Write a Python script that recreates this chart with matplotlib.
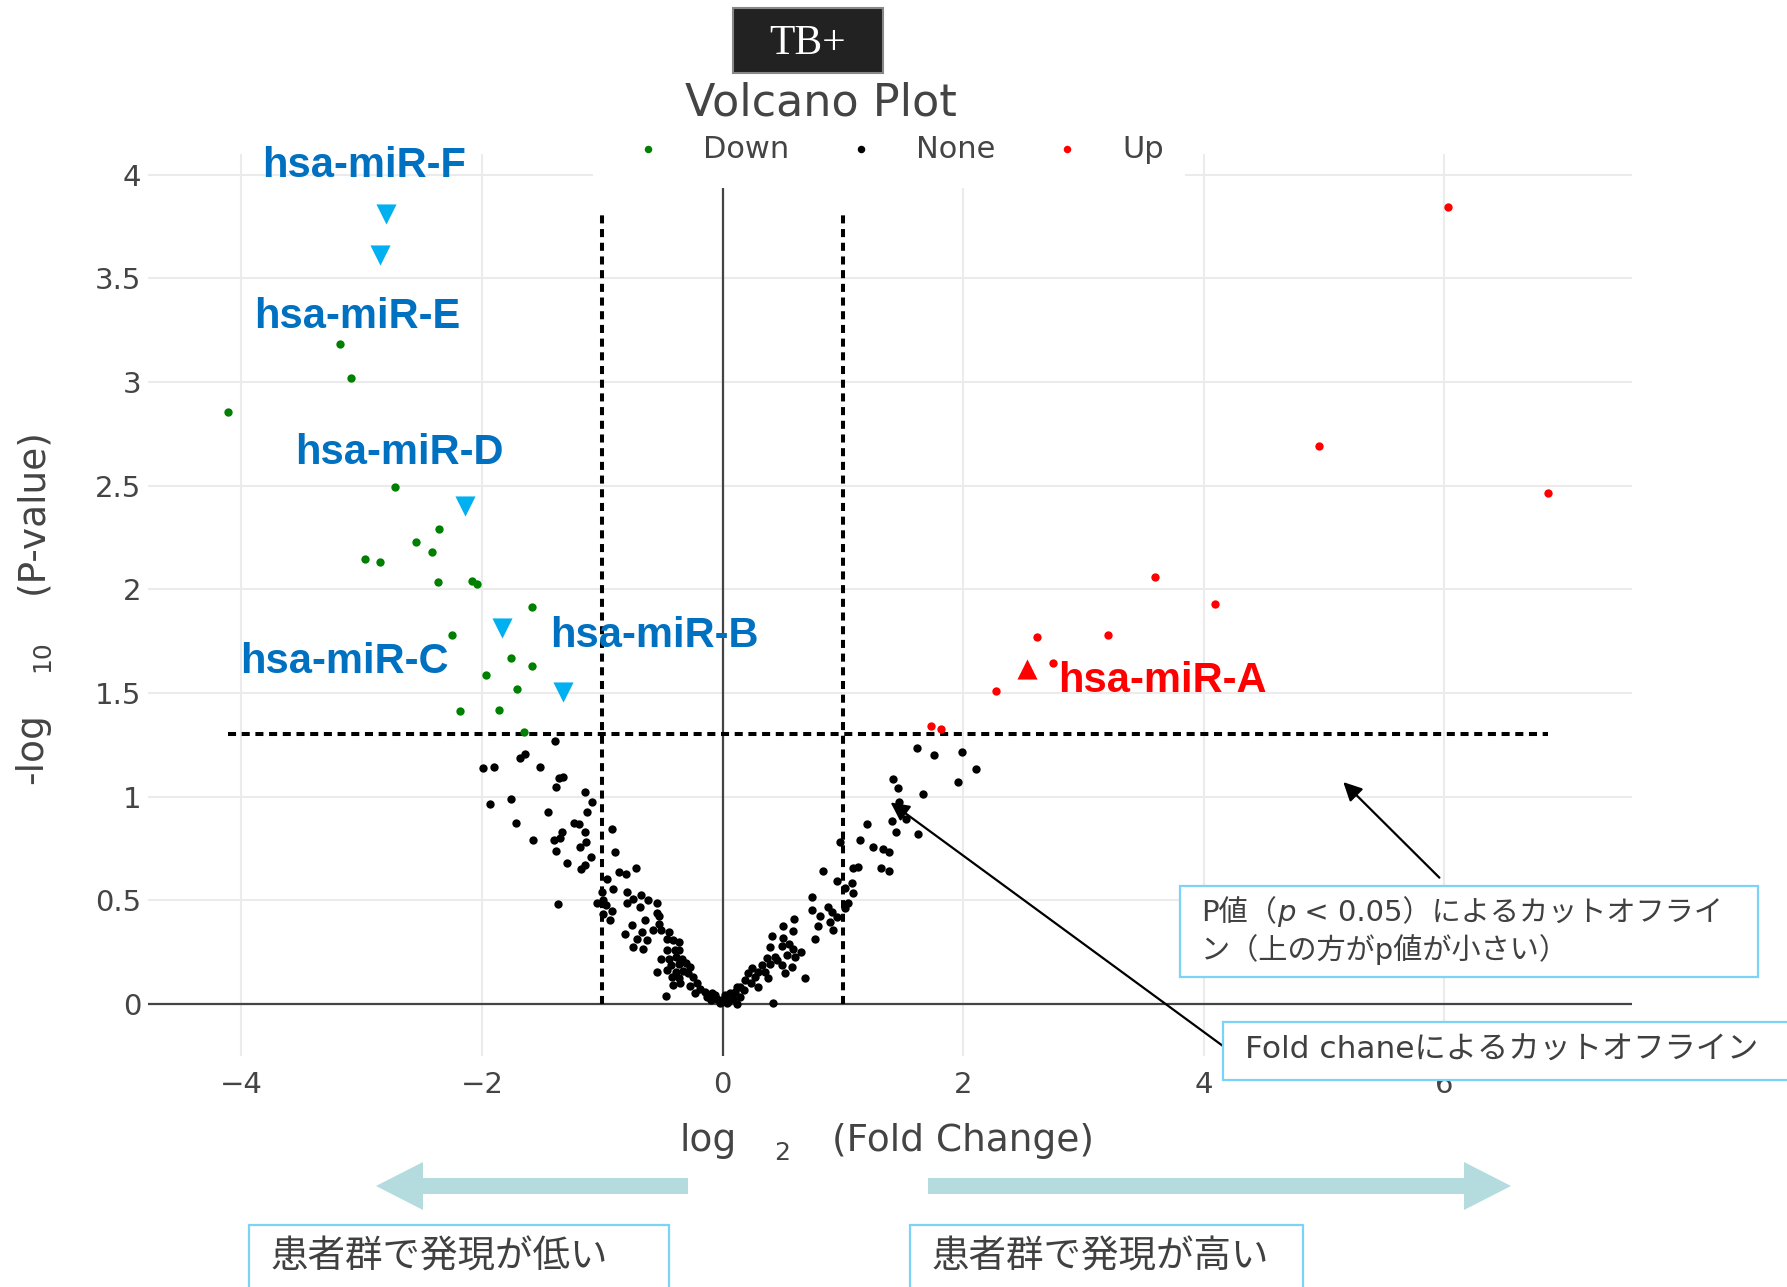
import matplotlib
matplotlib.use("Agg")
import matplotlib.pyplot as plt
from matplotlib.patches import Rectangle, FancyArrow
from matplotlib.text import Annotation

plt.rcParams['font.family'] = ['DejaVu Sans', 'Noto Sans CJK JP']

# ---- data (log2 fold change, -log10 p) ----
down_x = [-4.108, -3.178, -3.086, -2.725, -2.357, -2.550, -2.416, -2.970, -2.844, -2.364,
          -2.086, -2.037, -1.584, -2.245, -1.758, -1.587, -1.963, -1.706, -2.182, -1.859, -1.654]
down_y = [2.857, 3.186, 3.020, 2.494, 2.291, 2.228, 2.180, 2.145, 2.130, 2.034,
          2.039, 2.028, 1.917, 1.782, 1.671, 1.630, 1.588, 1.519, 1.414, 1.420, 1.312]

up_x = [6.032, 4.959, 6.858, 3.592, 4.096, 2.610, 3.202, 2.748, 2.275, 1.734, 1.812]
up_y = [3.845, 2.693, 2.463, 2.058, 1.929, 1.771, 1.778, 1.644, 1.509, 1.343, 1.326]

none_x = [
    -1.391, -1.643, -1.684, -1.992, -1.900, -1.515, -1.362, -1.327, -1.382, -1.146,
    -1.762, -1.936, -1.088, -1.449, -1.130, -1.720, -1.233, -1.196, -1.146, -1.337,
    -0.917, -1.574, -1.399, -1.352, -1.385, -1.185, -1.136, -0.894, -1.091, -1.293,
    -1.180, -1.141, -0.861, -0.961, -1.369,
    -0.720, -0.806, -0.908, -1.005, -1.041, -0.992, -0.969, -0.922, -0.997, -0.936,
    -0.797, -0.742, -0.797, -0.681, -0.617, -0.687, -0.543, -0.543, -0.529, -0.642,
    -0.751, -0.526, -0.581, -0.515, -0.809, -0.668, -0.709, -0.631, -0.742, -0.664,
    -0.443, -0.460, -0.410, -0.360, -0.460, -0.396, -0.360, -0.515, -0.443, -0.387,
    -0.340, -0.431, -0.360, -0.304, -0.271, -0.543, -0.460, -0.387, -0.327, -0.285,
    -0.423, -0.360, -0.244, -0.415, -0.354, -0.271, -0.215, -0.188, -0.229, -0.470,
    -0.146, -0.132, -0.091, -0.099, -0.049, -0.022, 0.020, 0.034, 0.076, 0.117, 0.117,
    0.976, 1.142, 1.253, 0.838, 1.087, 1.128, 0.949, 1.074, 1.017, 1.087,
    0.741, 1.046, 1.017, 0.741, 0.879, 0.907, 0.949, 0.810, 0.893, 0.591,
    0.791, 0.920, 0.768, 0.505, 0.588, 0.408, 0.505, 0.394, 0.491, 0.552,
    0.588, 0.652, 0.533, 0.602, 0.367, 0.436, 0.491, 0.574, 0.325, 0.394,
    0.450, 0.519, 0.685, 0.242, 0.297, 0.352, 0.214, 0.269, 0.380, 0.186,
    0.236, 0.297, 0.145, 0.180, 0.103, 0.062, 0.020, 0.145, 0.089, -0.007,
    0.421, -0.063, 0.047,
    1.613, 1.757, 1.987, 2.106, 1.419, 1.458, 1.959, 1.668, 1.469, 1.522,
    1.411, 1.203, 1.441, 1.624, 1.336, 1.386, 1.314, 1.386]
none_y = [
    1.267, 1.206, 1.185, 1.137, 1.145, 1.145, 1.089, 1.094, 1.048, 1.024,
    0.989, 0.963, 0.973, 0.925, 0.925, 0.872, 0.876, 0.867, 0.831, 0.828,
    0.843, 0.794, 0.791, 0.799, 0.738, 0.759, 0.780, 0.733, 0.711, 0.683,
    0.654, 0.670, 0.638, 0.606, 0.484,
    0.658, 0.626, 0.553, 0.542, 0.486, 0.502, 0.478, 0.450, 0.434, 0.405,
    0.542, 0.505, 0.489, 0.526, 0.502, 0.469, 0.489, 0.440, 0.424, 0.405,
    0.381, 0.386, 0.357, 0.357, 0.338, 0.349, 0.312, 0.309, 0.274, 0.267,
    0.349, 0.312, 0.309, 0.301, 0.260, 0.260, 0.260, 0.219, 0.220, 0.228,
    0.220, 0.188, 0.193, 0.199, 0.180, 0.156, 0.164, 0.156, 0.161, 0.148,
    0.129, 0.124, 0.132, 0.092, 0.100, 0.087, 0.100, 0.071, 0.052, 0.040,
    0.059, 0.035, 0.052, 0.019, 0.023, 0.006, 0.027, 0.006, 0.043, 0.083, 0.003,
    0.783, 0.791, 0.759, 0.643, 0.655, 0.662, 0.595, 0.582, 0.558, 0.534,
    0.518, 0.486, 0.462, 0.453, 0.469, 0.445, 0.421, 0.424, 0.397, 0.412,
    0.376, 0.357, 0.312, 0.376, 0.354, 0.328, 0.317, 0.276, 0.280, 0.289,
    0.264, 0.252, 0.236, 0.228, 0.225, 0.228, 0.188, 0.180, 0.188, 0.196,
    0.212, 0.148, 0.124, 0.172, 0.156, 0.156, 0.148, 0.132, 0.124, 0.116,
    0.100, 0.083, 0.083, 0.068, 0.059, 0.052, 0.043, 0.035, 0.027, 0.019,
    0.008, 0.043, 0.011,
    1.233, 1.204, 1.214, 1.134, 1.084, 1.044, 1.072, 1.012, 0.976, 0.892,
    0.884, 0.867, 0.831, 0.823, 0.748, 0.732, 0.658, 0.642]

# highlighted miRNAs
mir_down_x = [-2.796, -2.848, -2.141, -1.833, -1.327]
mir_down_y = [3.809, 3.615, 2.404, 1.812, 1.506]
mir_up_x = [2.528]
mir_up_y = [1.616]

label_names = ['hsa-miR-F', 'hsa-miR-E', 'hsa-miR-D', 'hsa-miR-C', 'hsa-miR-B', 'hsa-miR-A']
label_x = [-2.983, -3.040, -2.689, -3.144, -0.568, 3.655]
label_y = [4.044, 3.313, 2.659, 1.648, 1.775, 1.560]

fc_cut = 1.0
p_cut = 1.301  # -log10(0.05)

x_ticks = [-4, -2, 0, 2, 4, 6]
y_ticks = [0, 0.5, 1, 1.5, 2, 2.5, 3, 3.5, 4]

W, H = 1787, 1287
fig = plt.figure(figsize=(W / 100, H / 100), dpi=100)


def fx(px):
    return px / W


def fy(py):
    return 1 - py / H


ax = fig.add_axes([fx(148), fy(1056), (1632 - 148) / W, (1056 - 154) / H])
ax.set_xlim(-4.776, 7.56)
ax.set_ylim(-0.25, 4.10)
for s in ax.spines.values():
    s.set_visible(False)
ax.grid(True, color='#ebebeb', lw=1.5)
ax.set_axisbelow(True)
ax.set_xticks(x_ticks)
ax.set_yticks(y_ticks)
ax.set_yticklabels(['{:g}'.format(v) for v in y_ticks])
ax.tick_params(length=0, labelsize=21, labelcolor='#444444')
ax.tick_params(axis='x', pad=11)
ax.tick_params(axis='y', pad=5)
ax.axhline(0, color='#444444', lw=1.6, zorder=1)
ax.axvline(0, color='#444444', lw=1.6, zorder=1)

all_x = down_x + none_x + up_x
dot = (0, (2, 1.4))
ax.plot([min(all_x), max(all_x)], [p_cut, p_cut], color='black', lw=2.9, ls=dot, zorder=2)
vtop = max(mir_down_y)
ax.plot([-fc_cut, -fc_cut], [0, vtop], color='black', lw=2.9, ls=dot, zorder=2)
ax.plot([fc_cut, fc_cut], [0, vtop], color='black', lw=2.9, ls=dot, zorder=2)

h_down = ax.scatter(down_x, down_y, s=36, color='#008000', lw=0, zorder=3, label='Down')
h_none = ax.scatter(none_x, none_y, s=36, color='black', lw=0, zorder=3, label='None')
h_up = ax.scatter(up_x, up_y, s=36, color='#ff0000', lw=0, zorder=3, label='Up')

ax.scatter(mir_down_x, mir_down_y, s=210, marker='v', color='#00b0f0', lw=0, zorder=4)
ax.scatter(mir_up_x, mir_up_y, s=210, marker='^', color='#ff0000', lw=0, zorder=4)

for name, lx, ly in zip(label_names, label_x, label_y):
    col = '#ff0000' if name.endswith('A') else '#0070c0'
    ax.text(lx, ly, name, color=col, fontsize=30, fontweight='bold',
            family='Liberation Sans', ha='center', va='center', zorder=5)

arrow_kw = dict(arrowstyle='-|>', color='black', lw=1.6, mutation_scale=28,
                shrinkA=0, shrinkB=0)
ax.annotate('', xy=(5.16, 1.071), xytext=(5.959, 0.610), arrowprops=arrow_kw,
            annotation_clip=False, zorder=6)
ax.annotate('', xy=(1.397, 0.973), xytext=(4.226, -0.230), arrowprops=arrow_kw,
            annotation_clip=False, zorder=6)

# white area behind legend (covers gridlines like the original)
fig.add_artist(Rectangle((fx(593), fy(188)), (1185 - 593) / W, (188 - 120) / H,
                         transform=fig.transFigure, facecolor='white', edgecolor='none', zorder=2))
fig.legend(handles=[h_down, h_none, h_up], loc='center left',
           bbox_to_anchor=(fx(639), fy(149)), ncol=3, frameon=False, fontsize=22,
           handlelength=0.6, handletextpad=1.5, columnspacing=2.05, borderpad=0,
           borderaxespad=0, labelcolor='#444444', markerscale=0.9)

# title and TB+ tag
fig.add_artist(Rectangle((fx(733), fy(73)), 150 / W, 65 / H, transform=fig.transFigure,
                         facecolor='#222222', edgecolor='#888888', lw=1.5, zorder=3))
fig.text(fx(808), fy(44), 'TB+', color='white', fontsize=30, family='Liberation Serif',
         ha='center', va='center', zorder=4)
fig.text(fx(821), fy(103), 'Volcano Plot', color='#444444', fontsize=32,
         ha='center', va='center')

# axis titles
fig.text(fx(32), fy(749), '-log', rotation=90, fontsize=27, color='#444444', ha='center', va='center')
fig.text(fx(42), fy(656), '10', rotation=90, fontsize=18, color='#444444', ha='center', va='center')
fig.text(fx(32), fy(511), '(P-value)', rotation=90, fontsize=27, color='#444444', ha='center', va='center')
fig.text(fx(708), fy(1141), 'log', fontsize=27, color='#444444', ha='center', va='center')
fig.text(fx(782), fy(1153), '2', fontsize=18, color='#444444', ha='center', va='center')
fig.text(fx(963), fy(1141), '(Fold Change)', fontsize=27, color='#444444', ha='center', va='center')

# explanatory boxes
box_col = '#7dd3f7'
txt_col = '#404040'


def add_box(x0, y0, x1, y1):
    fig.add_artist(Rectangle((fx(x0), fy(y1)), (x1 - x0) / W, (y1 - y0) / H,
                             transform=fig.transFigure, facecolor='white',
                             edgecolor=box_col, lw=1.6, zorder=7))


def chain(prev, text, **kw):
    # place text right after the previous piece, same bottom line
    a = Annotation(text, xy=(1, 0), xycoords=prev, ha='left', va='bottom',
                   fontsize=21, color=txt_col, zorder=8, **kw)
    fig.add_artist(a)
    return a


add_box(1180, 886, 1758, 977)
t1 = fig.text(fx(1201), fy(913), 'P値（', fontsize=21, color=txt_col,
              ha='left', va='center', zorder=8)
t2 = chain(t1, 'p', style='italic')
chain(t2, ' < 0.05）によるカットオフライ')
fig.text(fx(1201), fy(950), 'ン（上の方がp値が小さい）',
         fontsize=21, color=txt_col, ha='left', va='center', zorder=8)

add_box(1223, 1022, 1800, 1080)
fig.text(fx(1245), fy(1050), 'Fold chaneによるカットオフライン',
         fontsize=22.5, color=txt_col, ha='left', va='center', zorder=8)

add_box(249, 1225, 669, 1300)
fig.text(fx(271), fy(1258), '患者群で発現が低い',
         fontsize=27, color=txt_col, ha='left', va='center', zorder=8)
add_box(910, 1225, 1303, 1300)
fig.text(fx(932), fy(1258), '患者群で発現が高い',
         fontsize=27, color=txt_col, ha='left', va='center', zorder=8)

# big direction arrows
arr_col = '#b4dcde'
ay = (H - 1186) / 100
fig.add_artist(FancyArrow(6.88, ay, -(6.88 - 3.76), 0, width=0.16, head_width=0.48,
                          head_length=0.47, length_includes_head=True, color=arr_col,
                          lw=0, transform=fig.dpi_scale_trans))
fig.add_artist(FancyArrow(9.28, ay, 15.11 - 9.28, 0, width=0.16, head_width=0.48,
                          head_length=0.47, length_includes_head=True, color=arr_col,
                          lw=0, transform=fig.dpi_scale_trans))

fig.savefig('out.png', dpi=100)
